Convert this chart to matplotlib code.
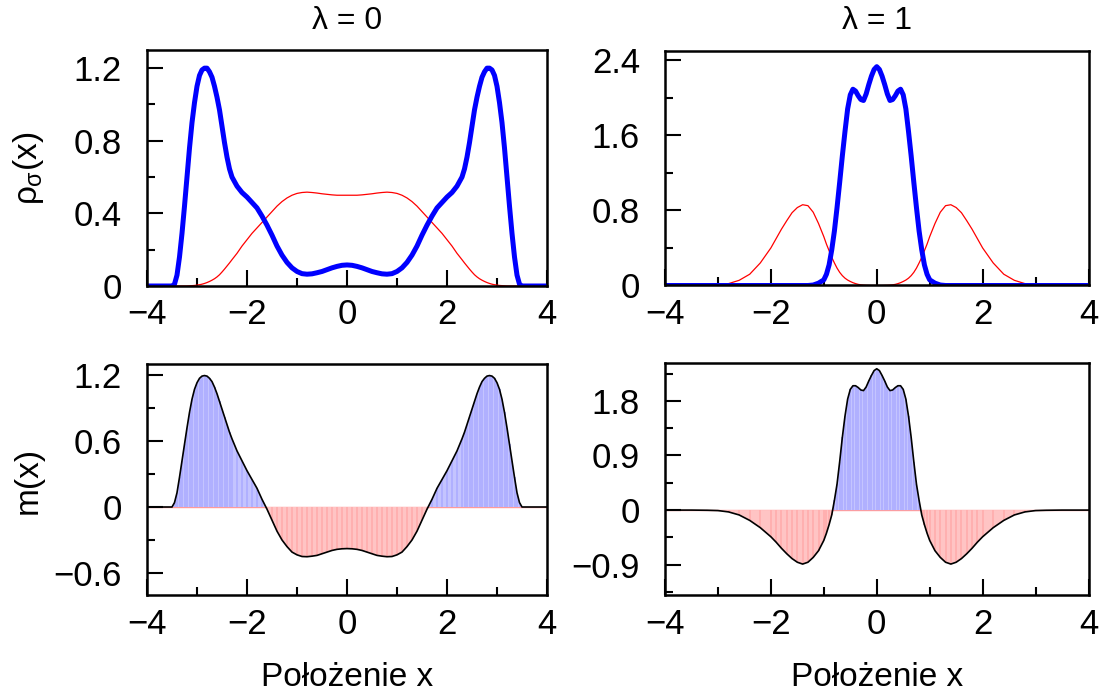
import numpy as np
import matplotlib.pyplot as plt
from matplotlib.ticker import FixedLocator

plt.rcParams['font.family'] = 'Liberation Sans'
plt.rcParams['mathtext.fontset'] = 'custom'
plt.rcParams['mathtext.rm'] = 'Liberation Sans'
plt.rcParams['mathtext.it'] = 'Liberation Sans'
plt.rcParams['axes.linewidth'] = 1.8

# lambda = 0 : densities of both spin components and magnetisation
x0 = [-4.0, -3.6, -3.5, -3.45, -3.4, -3.35, -3.3, -3.25, -3.2, -3.15, -3.1, -3.05,
      -3.0, -2.95, -2.9, -2.85, -2.8, -2.75, -2.7, -2.65, -2.6, -2.55, -2.5, -2.45,
      -2.4, -2.35, -2.3, -2.2, -2.1, -2.0, -1.9, -1.8, -1.7, -1.6, -1.5, -1.4, -1.3,
      -1.2, -1.1, -1.0, -0.9, -0.8, -0.7, -0.6, -0.5, -0.4, -0.3, -0.2, -0.1, 0.0,
      0.1, 0.2, 0.3, 0.4, 0.5, 0.6, 0.7, 0.8, 0.9, 1.0, 1.1, 1.2, 1.3, 1.4, 1.5,
      1.6, 1.7, 1.8, 1.9, 2.0, 2.1, 2.2, 2.3, 2.35, 2.4, 2.45, 2.5, 2.55, 2.6, 2.65,
      2.7, 2.75, 2.8, 2.85, 2.9, 2.95, 3.0, 3.05, 3.1, 3.15, 3.2, 3.25, 3.3, 3.35,
      3.4, 3.45, 3.5, 3.6, 4.0]
rho_up0 = [0, 0, 0, 0.01, 0.06, 0.16, 0.29, 0.44, 0.60, 0.76, 0.90, 1.01,
           1.10, 1.16, 1.19, 1.20, 1.20, 1.18, 1.15, 1.10, 1.04, 0.97, 0.88, 0.79,
           0.71, 0.645, 0.60, 0.55, 0.515, 0.49, 0.46, 0.43, 0.385, 0.335, 0.28, 0.22, 0.17,
           0.13, 0.10, 0.08, 0.068, 0.065, 0.067, 0.073, 0.08, 0.09, 0.10, 0.108, 0.114, 0.116,
           0.114, 0.108, 0.10, 0.09, 0.08, 0.073, 0.067, 0.065, 0.068, 0.08, 0.10, 0.13, 0.17, 0.22, 0.28,
           0.335, 0.385, 0.43, 0.46, 0.49, 0.515, 0.55, 0.60, 0.645, 0.71, 0.79, 0.88, 0.97, 1.04, 1.10,
           1.15, 1.18, 1.20, 1.20, 1.19, 1.16, 1.10, 1.01, 0.90, 0.76, 0.60, 0.44, 0.29, 0.16,
           0.06, 0.01, 0, 0, 0]
rho_dn0 = [0, 0, 0, 0, 0, 0, 0, 0, 0, 0.001, 0.002, 0.003,
           0.005, 0.007, 0.01, 0.014, 0.019, 0.025, 0.032, 0.04, 0.05, 0.062, 0.077, 0.093,
           0.11, 0.127, 0.145, 0.18, 0.22, 0.255, 0.29, 0.32, 0.35, 0.38, 0.41, 0.44, 0.465,
           0.485, 0.50, 0.51, 0.515, 0.517, 0.515, 0.512, 0.508, 0.505, 0.502, 0.50, 0.50, 0.50,
           0.50, 0.50, 0.502, 0.505, 0.508, 0.512, 0.515, 0.517, 0.515, 0.51, 0.50, 0.485, 0.465, 0.44, 0.41,
           0.38, 0.35, 0.32, 0.29, 0.255, 0.22, 0.18, 0.145, 0.127, 0.11, 0.093, 0.077, 0.062, 0.05, 0.04,
           0.032, 0.025, 0.019, 0.014, 0.01, 0.007, 0.005, 0.003, 0.002, 0.001, 0, 0, 0, 0,
           0, 0, 0, 0, 0]
m0 = [0, 0, 0, 0.04, 0.13, 0.27, 0.42, 0.57, 0.72, 0.86, 0.98, 1.07,
      1.13, 1.17, 1.19, 1.195, 1.19, 1.17, 1.14, 1.09, 1.03, 0.96, 0.89, 0.82,
      0.75, 0.68, 0.62, 0.51, 0.42, 0.33, 0.25, 0.17, 0.07, -0.02, -0.12, -0.22, -0.30,
      -0.36, -0.41, -0.435, -0.45, -0.452, -0.447, -0.44, -0.425, -0.41, -0.395, -0.385, -0.38, -0.378,
      -0.38, -0.385, -0.395, -0.41, -0.425, -0.44, -0.447, -0.452, -0.45, -0.435, -0.41, -0.36, -0.30, -0.22, -0.12,
      -0.02, 0.07, 0.17, 0.25, 0.33, 0.42, 0.51, 0.62, 0.68, 0.75, 0.82, 0.89, 0.96, 1.03, 1.09,
      1.14, 1.17, 1.19, 1.195, 1.19, 1.17, 1.13, 1.07, 0.98, 0.86, 0.72, 0.57, 0.42, 0.27,
      0.13, 0.04, 0, 0, 0]

# lambda = 1
x1 = [-4.0, -3.5, -3.2, -3.0, -2.8, -2.6, -2.4, -2.2, -2.0, -1.9, -1.8, -1.7, -1.6,
      -1.5, -1.4, -1.3, -1.2, -1.1, -1.0, -0.95, -0.9, -0.85, -0.8, -0.75, -0.7, -0.65,
      -0.6, -0.55, -0.5, -0.45, -0.4, -0.35, -0.3, -0.25, -0.2, -0.15, -0.1, -0.05, 0.0,
      0.05, 0.1, 0.15, 0.2, 0.25, 0.3, 0.35, 0.4, 0.45, 0.5, 0.55, 0.6, 0.65, 0.7,
      0.75, 0.8, 0.85, 0.9, 0.95, 1.0, 1.1, 1.2, 1.3, 1.4, 1.5, 1.6, 1.7, 1.8, 1.9,
      2.0, 2.2, 2.4, 2.6, 2.8, 3.0, 3.2, 3.5, 4.0]
rho_up1 = [0, 0, 0, 0, 0, 0, 0, 0, 0, 0, 0, 0, 0,
           0, 0, 0, 0.005, 0.025, 0.06, 0.12, 0.22, 0.38, 0.58, 0.83, 1.10, 1.38,
           1.64, 1.88, 2.03, 2.09, 2.07, 2.02, 1.98, 1.97, 2.04, 2.14, 2.23, 2.30, 2.33,
           2.30, 2.23, 2.14, 2.04, 1.97, 1.98, 2.02, 2.07, 2.09, 2.03, 1.88, 1.64, 1.38, 1.10,
           0.83, 0.58, 0.38, 0.22, 0.12, 0.06, 0.025, 0.005, 0, 0, 0, 0, 0, 0, 0,
           0, 0, 0, 0, 0, 0, 0, 0, 0]
rho_dn1 = [0, 0, 0, 0.005, 0.02, 0.055, 0.12, 0.24, 0.40, 0.50, 0.60, 0.69, 0.775,
           0.83, 0.86, 0.85, 0.78, 0.66, 0.52, 0.44, 0.37, 0.30, 0.24, 0.185, 0.14, 0.105,
           0.078, 0.058, 0.043, 0.03, 0.02, 0.012, 0.007, 0.004, 0.002, 0.001, 0, 0, 0,
           0, 0, 0.001, 0.002, 0.004, 0.007, 0.012, 0.02, 0.03, 0.043, 0.058, 0.078, 0.105, 0.14,
           0.185, 0.24, 0.30, 0.37, 0.44, 0.52, 0.66, 0.78, 0.85, 0.86, 0.83, 0.775, 0.69, 0.60, 0.50,
           0.40, 0.24, 0.12, 0.055, 0.02, 0.005, 0, 0, 0]
m1 = [0, 0, -0.003, -0.008, -0.03, -0.08, -0.17, -0.29, -0.44, -0.53, -0.63, -0.72, -0.80,
      -0.86, -0.89, -0.86, -0.78, -0.67, -0.50, -0.38, -0.24, -0.08, 0.16, 0.43, 0.80, 1.20,
      1.55, 1.83, 1.99, 2.05, 2.05, 2.02, 1.98, 1.97, 2.03, 2.13, 2.22, 2.30, 2.33,
      2.30, 2.22, 2.13, 2.03, 1.97, 1.98, 2.02, 2.05, 2.05, 1.99, 1.83, 1.55, 1.20, 0.80,
      0.43, 0.16, -0.08, -0.24, -0.38, -0.50, -0.67, -0.78, -0.86, -0.89, -0.86, -0.80, -0.72, -0.63, -0.53,
      -0.44, -0.29, -0.17, -0.08, -0.03, -0.008, -0.003, 0, 0]

titles = ['λ = 0', 'λ = 1']
xlabel = 'Położenie x'

fig = plt.figure(figsize=(11.07, 6.96), dpi=100)
W, H = 1107, 696


def panel(left, top, right, bottom):
    # place an axes by its pixel box
    return fig.add_axes([left / W, 1 - bottom / H, (right - left) / W, (bottom - top) / H])


def style(ax, ylim, ymajor, ylabels, yminor):
    ax.set_xlim(-4, 4)
    ax.set_ylim(*ylim)
    ax.xaxis.set_major_locator(FixedLocator([-4, -2, 0, 2, 4]))
    ax.xaxis.set_minor_locator(FixedLocator([-3, -1, 1, 3]))
    ax.set_yticks(ymajor)
    ax.set_yticklabels(ylabels)
    ax.yaxis.set_minor_locator(FixedLocator(yminor))
    ax.tick_params(which='both', direction='in', top=False, right=False,
                   width=1.5, labelsize=25)
    ax.tick_params(which='major', length=11.5)
    ax.tick_params(which='minor', length=5.5)
    ax.tick_params(axis='y', pad=18)
    ax.tick_params(axis='x', pad=9)


def magnetisation(ax, x, m):
    x = np.asarray(x)
    m = np.asarray(m)
    ax.axhline(0, color='#ff9a9a', lw=1.0, zorder=1)
    ax.fill_between(x, m, 0, where=m >= 0, interpolate=True, color='#c4c4ff', lw=0, zorder=1)
    ax.fill_between(x, m, 0, where=m <= 0, interpolate=True, color='#ffc4c4', lw=0, zorder=1)
    pos = m > 0
    neg = m < 0
    ax.vlines(x[pos], 0, m[pos], colors='#adadff', lw=1.2, zorder=2)
    ax.vlines(x[neg], 0, m[neg], colors='#ffadad', lw=1.2, zorder=2)
    ax.plot(x, m, color='black', lw=1.2, zorder=3)


ax_tl = panel(147, 50, 547, 286)
ax_tr = panel(665, 50.7, 1088.5, 285.5)
ax_bl = panel(147, 364, 547, 595)
ax_br = panel(665, 363.3, 1088.5, 595)

ax_tl.plot(x0, rho_dn0, color='#ff0000', lw=0.9)
ax_tl.plot(x0, rho_up0, color='#0000ff', lw=3.6)
ax_tr.plot(x1, rho_dn1, color='#ff0000', lw=0.9)
ax_tr.plot(x1, rho_up1, color='#0000ff', lw=3.6)

magnetisation(ax_bl, x0, m0)
magnetisation(ax_br, x1, m1)

style(ax_tl, (0, 1.3), [0, 0.4, 0.8, 1.2], ['0', '0.4', '0.8', '1.2'], [0.2, 0.6, 1.0])
style(ax_tr, (0, 2.5), [0, 0.8, 1.6, 2.4], ['0', '0.8', '1.6', '2.4'], [0.4, 1.2, 2.0])
style(ax_bl, (-0.8, 1.3), [-0.6, 0, 0.6, 1.2], ['\u22120.6', '0', '0.6', '1.2'], [-0.3, 0.3, 0.9])
style(ax_br, (-1.4, 2.42), [-0.9, 0, 0.9, 1.8], ['\u22120.9', '0', '0.9', '1.8'],
      [-1.35, -0.45, 0.45, 1.35, 2.25])

fig.text(347 / W, 1 - 21 / H, titles[0], ha='center', va='center', fontsize=23)
fig.text(877 / W, 1 - 21 / H, titles[1], ha='center', va='center', fontsize=23)
fig.text(28 / W, 1 - 168 / H, r'$\rho_\sigma$(x)', rotation=90, ha='center', va='center', fontsize=24)
fig.text(28 / W, 1 - 480 / H, 'm(x)', rotation=90, ha='center', va='center', fontsize=24)
fig.text(347 / W, 1 - 678 / H, xlabel, ha='center', va='center', fontsize=24)
fig.text(877 / W, 1 - 678 / H, xlabel, ha='center', va='center', fontsize=24)

fig.savefig('out.png', dpi=100)
